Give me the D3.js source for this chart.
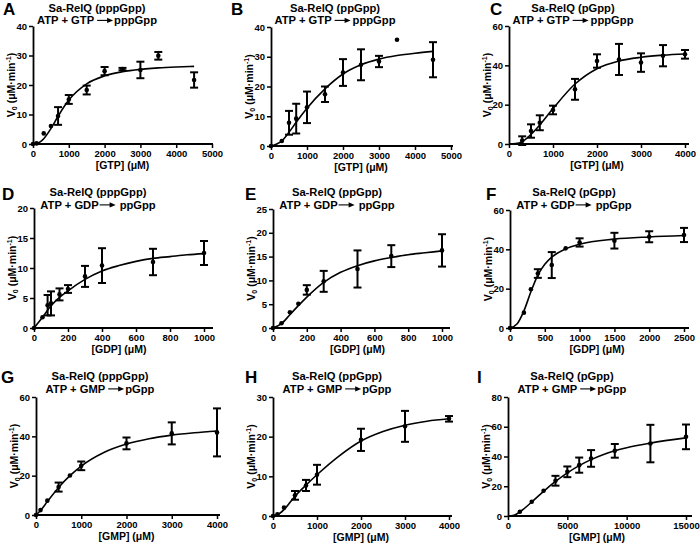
<!DOCTYPE html>
<html><head><meta charset="utf-8">
<script src="https://cdn.jsdelivr.net/npm/d3@7"></script>
<style>
html,body{margin:0;padding:0;background:#fff;}
svg{display:block;font-family:"Liberation Sans",Arial,Helvetica,sans-serif;}
</style></head><body>
<svg id="chart" width="700" height="548"></svg>
<script>
// ---------- DATA ----------
// Panel A : Sa-RelQ (pppGpp), ATP + GTP -> pppGpp
const aX = [0, 100, 300, 500, 700, 1000, 1500, 2000, 2500, 3000, 3500, 4500];
const aY = [0, 0.2, 3.6, 6.1, 9.5, 15.1, 18.3, 24.7, 25.4, 25.1, 29.9, 21.7];
const aErr = [0, 0, 0, 0, 3.0, 1.5, 1.5, 1.4, 0.4, 2.8, 1.3, 2.6];
const aFitX = [0, 100, 200, 300, 500, 700, 1000, 1500, 2000, 2500, 3000, 3500, 4000, 4500];
const aFitY = [0, 0.15, 0.7, 1.8, 5.2, 9.4, 14.9, 20.4, 23.1, 24.5, 25.3, 25.8, 26.1, 26.3];
// Panel B : Sa-RelQ (ppGpp), ATP + GTP -> pppGpp
const bX = [0, 300, 500, 700, 1000, 1500, 2000, 2500, 3000, 3500, 4500];
const bY = [0, 1.7, 7.8, 9.2, 13.0, 17.4, 24.7, 27.3, 28.4, 35.7, 29.0];
const bErr = [0, 0, 4.0, 5.0, 5.3, 2.6, 4.5, 5.2, 1.9, 0, 5.9];
const bFitX = [0, 300, 500, 700, 1000, 1500, 2000, 2500, 3000, 3500, 4000, 4500];
const bFitY = [0, 1.7, 4.6, 8.0, 12.7, 19.2, 24.2, 27.3, 29.2, 30.4, 31.2, 31.8];
// Panel C : Sa-RelQ (pGpp), ATP + GTP -> pppGpp
const cX = [300, 500, 700, 1000, 1500, 2000, 2500, 3000, 3500, 4000];
const cY = [1.7, 6.6, 10.8, 17.3, 27.8, 42.2, 43.0, 41.4, 44.9, 45.6];
const cErr = [2.2, 3.4, 3.8, 2.2, 5.3, 3.4, 7.9, 4.7, 5.4, 2.2];
const cFitX = [0, 150, 300, 500, 700, 1000, 1500, 2000, 2500, 3000, 3500, 4000];
const cFitY = [0, 0.2, 1.2, 4.9, 9.7, 18.0, 30.5, 38.3, 42.2, 44.1, 45.2, 45.8];
// Panel D : Sa-RelQ (pppGpp), ATP + GDP -> ppGpp
const dX = [0, 50, 80, 100, 150, 200, 300, 400, 700, 1000];
const dY = [0, 1.8, 3.8, 4.1, 5.6, 6.5, 8.6, 10.4, 11.0, 12.5];
const dErr = [0, 0, 1.7, 2.0, 1.0, 0.65, 1.75, 2.9, 2.2, 2.0];
const dFitX = [0, 50, 100, 150, 200, 300, 400, 500, 600, 700, 800, 900, 1000];
const dFitY = [0, 1.8, 3.7, 5.1, 6.2, 8.1, 9.5, 10.4, 11.1, 11.6, 11.9, 12.2, 12.4];
// Panel E : Sa-RelQ (ppGpp), ATP + GDP -> ppGpp
const eX = [0, 50, 100, 150, 200, 300, 500, 700, 1000];
const eY = [0, 1.0, 3.3, 5.1, 8.0, 9.8, 12.4, 15.1, 16.3];
const eErr = [0, 0, 0, 0, 1.0, 2.2, 3.9, 2.3, 3.4];
const eFitX = [0, 50, 100, 150, 200, 300, 400, 500, 600, 700, 800, 900, 1000];
const eFitY = [0, 0.9, 2.8, 4.7, 6.5, 9.6, 11.7, 13.1, 14.1, 14.8, 15.4, 15.8, 16.2];
// Panel F : Sa-RelQ (pGpp), ATP + GDP -> ppGpp
const fX = [0, 200, 300, 400, 600, 800, 1000, 1500, 2000, 2500];
const fY = [0, 7.8, 19.7, 27.7, 32.0, 40.5, 43.5, 44.4, 46.4, 47.3];
const fErr = [0, 0, 0, 2.2, 6.6, 0, 2.1, 4.0, 2.8, 3.6];
const fFitX = [0, 100, 200, 300, 400, 500, 600, 800, 1000, 1500, 2000, 2500];
const fFitY = [0, 2.0, 8.7, 18.4, 26.9, 32.4, 36.0, 40.2, 42.6, 45.2, 46.3, 47.0];
// Panel G : Sa-RelQ (pppGpp), ATP + GMP -> pGpp
const gX = [0, 100, 250, 500, 750, 1000, 2000, 3000, 4000];
const gY = [0, 2.5, 7.3, 14.2, 20.1, 25.0, 36.4, 41.5, 42.0];
const gErr = [0, 0, 0, 2.3, 0, 2.2, 3.0, 5.6, 12.2];
const gFitX = [0, 100, 250, 500, 750, 1000, 1500, 2000, 2500, 3000, 3500, 4000];
const gFitY = [0, 2.3, 6.8, 14.0, 20.0, 24.9, 31.8, 36.1, 38.8, 40.6, 41.8, 42.7];
// Panel H : Sa-RelQ (ppGpp), ATP + GMP -> pGpp
const hX = [0, 100, 250, 500, 750, 1000, 2000, 3000, 4000];
const hY = [0, 0.4, 2.1, 5.2, 7.7, 10.4, 19.2, 22.6, 24.5];
const hErr = [0, 0, 0, 1.1, 1.4, 2.5, 2.8, 3.9, 0.7];
const hFitX = [0, 100, 250, 500, 750, 1000, 1500, 2000, 2500, 3000, 3500, 4000];
const hFitY = [0, 0.3, 1.6, 5.0, 7.8, 10.4, 15.1, 18.9, 21.3, 22.9, 23.9, 24.5];
// Panel I : Sa-RelQ (pGpp), ATP + GMP -> pGpp
const iX = [1000, 2000, 3000, 4000, 5000, 6000, 7000, 9000, 12000, 15000];
const iY = [2.9, 9.6, 17.0, 23.7, 29.7, 34.2, 38.7, 43.8, 48.7, 53.2];
const iErr = [0, 0, 0, 3.3, 3.6, 5.1, 5.6, 4.6, 12.6, 8.3];
const iFitX = [0, 500, 1000, 2000, 3000, 4000, 5000, 6000, 7000, 8000, 9000, 10000, 12000, 15000];
const iFitY = [0, 0.5, 2.8, 9.4, 16.6, 23.2, 29.0, 33.9, 37.9, 41.2, 43.8, 45.9, 49.0, 52.5];

// tick labels
const xTicksGTP5 = [0, 1000, 2000, 3000, 4000, 5000];
const xTicks4k = [0, 1000, 2000, 3000, 4000];
const xTicks1k = [0, 200, 400, 600, 800, 1000];
const xTicks2500 = [0, 500, 1000, 1500, 2000, 2500];
const xTicks15k = [0, 5000, 10000, 15000];
const yTicks40 = [0, 10, 20, 30, 40];
const yTicks60 = [0, 20, 40, 60];
const yTicks20 = [0, 5, 10, 15, 20];
const yTicks25 = [0, 5, 10, 15, 20, 25];
const yTicks30 = [0, 10, 20, 30];
const yTicks80 = [0, 20, 40, 60, 80];

const panelLetters = ["A", "B", "C", "D", "E", "F", "G", "H", "I"];
const enzymeTitles = ["Sa-RelQ (pppGpp)", "Sa-RelQ (ppGpp)", "Sa-RelQ (pGpp)",
                      "Sa-RelQ (pppGpp)", "Sa-RelQ (ppGpp)", "Sa-RelQ (pGpp)",
                      "Sa-RelQ (pppGpp)", "Sa-RelQ (ppGpp)", "Sa-RelQ (pGpp)"];
const reactants = ["ATP + GTP", "ATP + GTP", "ATP + GTP", "ATP + GDP", "ATP + GDP", "ATP + GDP",
                   "ATP + GMP", "ATP + GMP", "ATP + GMP"];
const products = ["pppGpp", "pppGpp", "pppGpp", "ppGpp", "ppGpp", "ppGpp", "pGpp", "pGpp", "pGpp"];
const xLabels = ["[GTP] (μM)", "[GTP] (μM)", "[GTP] (μM)", "[GDP] (μM)", "[GDP] (μM)", "[GDP] (μM)",
                 "[GMP] (μM)", "[GMP] (μM)", "[GMP] (μM)"];

// ---------- LAYOUT (pixels) ----------
const layout = [
  {left: 33,  right: 212, top: 26,  bottom: 144, extra: 1, lx: 3,   ly: 15,  t1: 11.5, t2: 24.2, gapA: 3, gapB: 1},
  {left: 271, right: 451, top: 27,  bottom: 146, extra: 2, lx: 231, ly: 15,  t1: 11.5, t2: 24.2, gapA: 3, gapB: 2},
  {left: 509, right: 685, top: 26,  bottom: 144, extra: 4, lx: 490, ly: 15,  t1: 11.5, t2: 24.2, gapA: 3, gapB: 2},
  {left: 34,  right: 204, top: 208, bottom: 328, extra: 9, lx: 2,   ly: 200, t1: 196,  t2: 208.7, gapA: 1, gapB: 4},
  {left: 273, right: 442, top: 209, bottom: 328, extra: 8, lx: 245, ly: 200, t1: 196,  t2: 208.7, gapA: 1, gapB: 4},
  {left: 510, right: 684, top: 210, bottom: 328, extra: 5, lx: 486, ly: 200, t1: 196,  t2: 208.7, gapA: 1, gapB: 4},
  {left: 36,  right: 217, top: 397, bottom: 515, extra: 3, lx: 1,   ly: 383, t1: 380,  t2: 392.7, gapA: 3, gapB: 1},
  {left: 273, right: 449, top: 397, bottom: 516, extra: 3, lx: 245, ly: 383, t1: 380,  t2: 392.7, gapA: 3, gapB: 1},
  {left: 508, right: 686, top: 397, bottom: 516, extra: 6, lx: 477, ly: 383, t1: 380,  t2: 392.7, gapA: 3, gapB: 1}
];

const series = [
  {x: aX, y: aY, err: aErr, fx: aFitX, fy: aFitY, xt: xTicksGTP5, yt: yTicks40},
  {x: bX, y: bY, err: bErr, fx: bFitX, fy: bFitY, xt: xTicksGTP5, yt: yTicks40},
  {x: cX, y: cY, err: cErr, fx: cFitX, fy: cFitY, xt: xTicks4k, yt: yTicks60},
  {x: dX, y: dY, err: dErr, fx: dFitX, fy: dFitY, xt: xTicks1k, yt: yTicks20},
  {x: eX, y: eY, err: eErr, fx: eFitX, fy: eFitY, xt: xTicks1k, yt: yTicks25},
  {x: fX, y: fY, err: fErr, fx: fFitX, fy: fFitY, xt: xTicks2500, yt: yTicks60},
  {x: gX, y: gY, err: gErr, fx: gFitX, fy: gFitY, xt: xTicks4k, yt: yTicks60},
  {x: hX, y: hY, err: hErr, fx: hFitX, fy: hFitY, xt: xTicks4k, yt: yTicks30},
  {x: iX, y: iY, err: iErr, fx: iFitX, fy: iFitY, xt: xTicks15k, yt: yTicks80}
];

const INK = "#000";
const TITLE_SIZE = "11.2px";
const svg = d3.select("#chart");

series.forEach((s, k) => {
  const L = layout[k];
  const g = svg.append("g");
  const x = d3.scaleLinear().domain([0, d3.max(s.xt)]).range([L.left, L.right]);
  const y = d3.scaleLinear().domain([0, d3.max(s.yt)]).range([L.bottom, L.top]);

  // x axis
  const xa = g.append("g").attr("transform", `translate(0,${L.bottom})`)
    .call(d3.axisBottom(x).tickValues(s.xt).tickSize(4).tickSizeOuter(0).tickPadding(2).tickFormat(d3.format("d")));
  xa.select(".domain").remove();
  g.append("line").attr("x1", L.left).attr("x2", L.right + L.extra)
    .attr("y1", L.bottom).attr("y2", L.bottom).attr("stroke", INK).attr("stroke-width", 1.8);
  // y axis
  const ya = g.append("g").attr("transform", `translate(${L.left},0)`)
    .call(d3.axisLeft(y).tickValues(s.yt).tickSize(4).tickSizeOuter(0).tickPadding(2).tickFormat(d3.format("d")));
  ya.select(".domain").attr("stroke", INK).attr("stroke-width", 1.8);
  [xa, ya].forEach(a => {
    a.selectAll(".tick line").attr("stroke", INK).attr("stroke-width", 1.5);
    a.selectAll(".tick text").attr("fill", INK).attr("font-size", "9.5px").attr("font-weight", "bold")
      .attr("font-family", '"Liberation Sans", Arial, sans-serif');
  });

  // fitted curve
  const line = d3.line().x(d => x(d[0])).y(d => y(d[1])).curve(d3.curveMonotoneX);
  g.append("path").datum(d3.zip(s.fx, s.fy)).attr("d", line)
    .attr("fill", "none").attr("stroke", INK).attr("stroke-width", 1.6);

  // error bars
  const pts = s.x.map((v, i) => ({x: v, y: s.y[i], e: s.err[i]}));
  const eb = g.append("g").attr("stroke", INK).attr("stroke-width", 2);
  pts.filter(d => d.e > 0).forEach(d => {
    const cx = x(d.x), y1 = y(d.y - d.e), y2 = y(d.y + d.e);
    eb.append("line").attr("x1", cx).attr("x2", cx).attr("y1", y1).attr("y2", y2);
    eb.append("line").attr("x1", cx - 4).attr("x2", cx + 4).attr("y1", y1).attr("y2", y1);
    eb.append("line").attr("x1", cx - 4).attr("x2", cx + 4).attr("y1", y2).attr("y2", y2);
  });
  // points
  g.append("g").selectAll("circle").data(pts).join("circle")
    .attr("cx", d => x(d.x)).attr("cy", d => y(d.y)).attr("r", 2.3).attr("fill", INK);

  // panel letter
  g.append("text").attr("x", L.lx).attr("y", L.ly).attr("font-size", "17px").attr("font-weight", "bold")
    .attr("fill", INK).text(panelLetters[k]);

  // titles
  const cxT = L.left + 64;
  g.append("text").attr("x", cxT).attr("y", L.t1).attr("text-anchor", "middle")
    .attr("font-size", TITLE_SIZE).attr("font-weight", "bold").attr("fill", INK).text(enzymeTitles[k]);
  const tl = g.append("text").attr("y", L.t2).attr("font-size", TITLE_SIZE).attr("font-weight", "bold")
    .attr("fill", INK).text(reactants[k]);
  const tr = g.append("text").attr("y", L.t2).attr("font-size", TITLE_SIZE).attr("font-weight", "bold")
    .attr("fill", INK).text(products[k]);
  const wl = tl.node().getComputedTextLength(), wr = tr.node().getComputedTextLength();
  const arrowLen = 16;
  const total = wl + L.gapA + arrowLen + L.gapB + wr;
  const sx = cxT - total / 2;
  tl.attr("x", sx);
  const ax0 = sx + wl + L.gapA, ax1 = ax0 + arrowLen, ay = L.t2 - 3.8;
  g.append("line").attr("x1", ax0).attr("x2", ax1 - 4).attr("y1", ay).attr("y2", ay)
    .attr("stroke", INK).attr("stroke-width", 1.1);
  g.append("path").attr("d", `M${ax1},${ay} L${ax1 - 6},${ay - 2.6} L${ax1 - 6},${ay + 2.6} Z`).attr("fill", INK);
  tr.attr("x", ax1 + L.gapB);

  // x axis label
  g.append("text").attr("x", (L.left + L.right) / 2).attr("y", L.bottom + 24.5)
    .attr("text-anchor", "middle").attr("font-size", "10.5px").attr("font-weight", "bold")
    .attr("fill", INK).text(xLabels[k]);

  // y axis label
  const yl = g.append("text")
    .attr("transform", `translate(${L.left - 22},${(L.top + L.bottom) / 2}) rotate(-90)`)
    .attr("text-anchor", "middle").attr("dy", "0.35em")
    .attr("font-size", "10.5px").attr("font-weight", "bold").attr("fill", INK);
  yl.append("tspan").text("V");
  yl.append("tspan").attr("font-size", "7px").attr("dy", 2.5).text("0");
  yl.append("tspan").attr("dy", -2.5).text(" (μM·min");
  yl.append("tspan").attr("font-size", "7px").attr("dy", -4).text("-1");
  yl.append("tspan").attr("dy", 4).text(")");
});
</script>
</body></html>
